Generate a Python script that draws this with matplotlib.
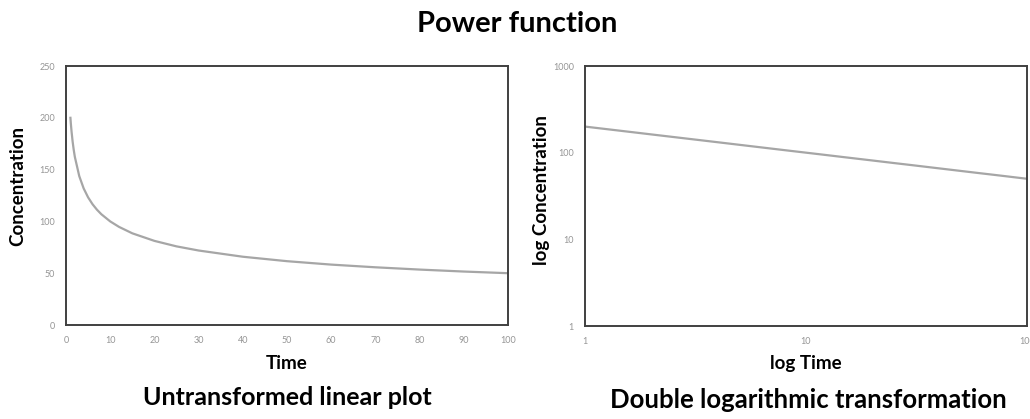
import matplotlib
matplotlib.use("Agg")
import matplotlib.pyplot as plt
from matplotlib.ticker import FixedLocator, NullLocator

plt.rcParams['font.family'] = ['Lato', 'DejaVu Sans']

# values
time = [1, 1.1, 1.25, 1.5, 1.75, 2, 3, 4, 5, 6, 7, 8, 10, 12, 15, 20, 25, 30,
        40, 50, 60, 70, 80, 90, 100]
conc = [200, 194.3, 187.0, 177.0, 169.0, 162.3, 143.7, 131.8, 123.2, 116.6, 111.3,
        106.9, 100, 94.7, 88.5, 81.2, 75.9, 71.9, 65.9, 61.6, 58.3, 55.7, 53.5, 51.6, 50]

lin_xticks = [0, 10, 20, 30, 40, 50, 60, 70, 80, 90, 100]
lin_yticks = [0, 50, 100, 150, 200, 250]
log_xticks = [1, 10, 100]
log_yticks = [1, 10, 100, 1000]

W, H = 1030, 419
fig = plt.figure(figsize=(W / 100, H / 100), dpi=100)
fig.patch.set_facecolor('white')

line_col = '#a6a6a6'
tick_col = '#959595'

ax1 = fig.add_axes([66 / W, 1 - 325 / H, (508 - 66) / W, (325 - 66) / H])
ax2 = fig.add_axes([585 / W, 1 - 326 / H, (1027 - 585) / W, (326 - 66) / H])

ax1.plot(time, conc, color=line_col, lw=1.6)
ax1.set_xlim(0, 100)
ax1.set_ylim(0, 250)
ax1.set_xticks(lin_xticks)
ax1.set_yticks(lin_yticks)

ax2.plot(time, conc, color=line_col, lw=1.6)
ax2.set_xscale('log')
ax2.set_yscale('log')
ax2.set_xlim(1, 100)
ax2.set_ylim(1, 1000)
ax2.xaxis.set_major_locator(FixedLocator(log_xticks))
ax2.yaxis.set_major_locator(FixedLocator(log_yticks))
ax2.xaxis.set_minor_locator(NullLocator())
ax2.yaxis.set_minor_locator(NullLocator())
ax2.set_xticklabels([str(v) for v in log_xticks])
ax2.set_yticklabels([str(v) for v in log_yticks])

for ax in (ax1, ax2):
    for s in ax.spines.values():
        s.set_color('#404040')
        s.set_linewidth(1.4)
    ax.tick_params(length=0, labelsize=6.5, labelcolor=tick_col, pad=8)

def ftext(x, y, s, size, **kw):
    fig.text(x / W, 1 - y / H, s, ha='center', va='center', fontsize=size,
             fontweight='bold', **kw)

ftext(18, 186, 'Concentration', 13.5, rotation=90)
ftext(542, 190, 'log Concentration', 13.5, rotation=90)
ftext(287, 363, 'Time', 13.5)
ftext(806, 363, 'log Time', 13.5)
ftext(287, 397, 'Untransformed linear plot', 18)
ftext(808, 400, 'Double logarithmic transformation', 18.5)
ftext(517, 24, 'Power function', 21)

fig.savefig('out.png', dpi=100)
